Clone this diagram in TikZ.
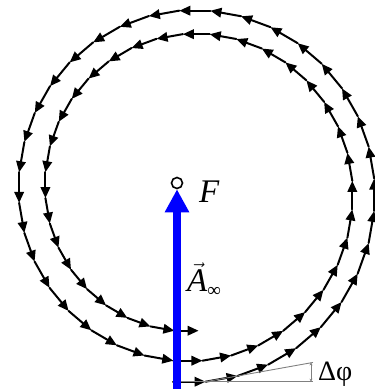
\documentclass[tikz,border=0pt]{standalone}
\usepackage{fontspec}
\setmainfont{Liberation Serif}
\usetikzlibrary{arrows.meta,positioning}
\tikzset{
  seg/.style={line width=2pt, line cap=round, -{Triangle[length=11pt,width=9.5pt]}},
  dphi/.style={gray, line width=0.9pt},
  focus/.style={circle, draw, fill=white, line width=1.6pt, minimum size=11pt, inner sep=0pt},
  vecA/.style={blue, line width=8pt, -{Triangle[length=23pt,width=23pt]}},
  lbl/.style={inner sep=0pt, font=\fontsize{33}{33}\selectfont},
}
\begin{document}
\begin{tikzpicture}[x=1pt, y=1pt]
    \useasboundingbox (0,0) rectangle (375,389);

    % Vẽ đường xoắn gồm các vectơ nhỏ
    \begin{scope}[shift={(173,7.3)}, yscale=1.017]
        \coordinate (p0) at (0,0);
        \foreach \k in {0,...,72}{
            \pgfmathsetmacro\len{32.6-0.0742*\k-0.000593*\k*\k}
            \pgfmathtruncatemacro\nxt{\k+1}
            \draw[seg] (p\k) -- ++(\k*10:\len) coordinate (p\nxt);
        }

        % Góc Delta phi
        \draw[dphi] (p0) -- ++(140,0) coordinate (b1);
        \draw[dphi] (p1) -- ++(10:109) coordinate (b2);
        \draw[dphi, {Stealth[length=3pt,width=3pt]}-{Stealth[length=3pt,width=3pt]}]
            ([xshift=-2pt]b1) -- ([xshift=-2pt]b1 |- b2);
        \node[inner sep=0pt, anchor=base west, font=\fontsize{28}{28}\selectfont]
            (dp) at ([xshift=5pt, yshift=1pt]b1) {Δφ};
    \end{scope}

    % Tiêu điểm F và vectơ A
    \node[focus] (F) at (177,206) {};
    \coordinate (A0) at (177,0);
    \draw[vecA] (A0) -- (F.south);
    \node[lbl, anchor=base west] (Fl) at (199,186) {\itshape F};
    \node[lbl, anchor=base west] (Al) at (187,97)
        {$\vec{\hbox{\itshape A}}$\raisebox{-5pt}{\fontsize{19}{19}\selectfont ∞}};
\end{tikzpicture}
\end{document}
